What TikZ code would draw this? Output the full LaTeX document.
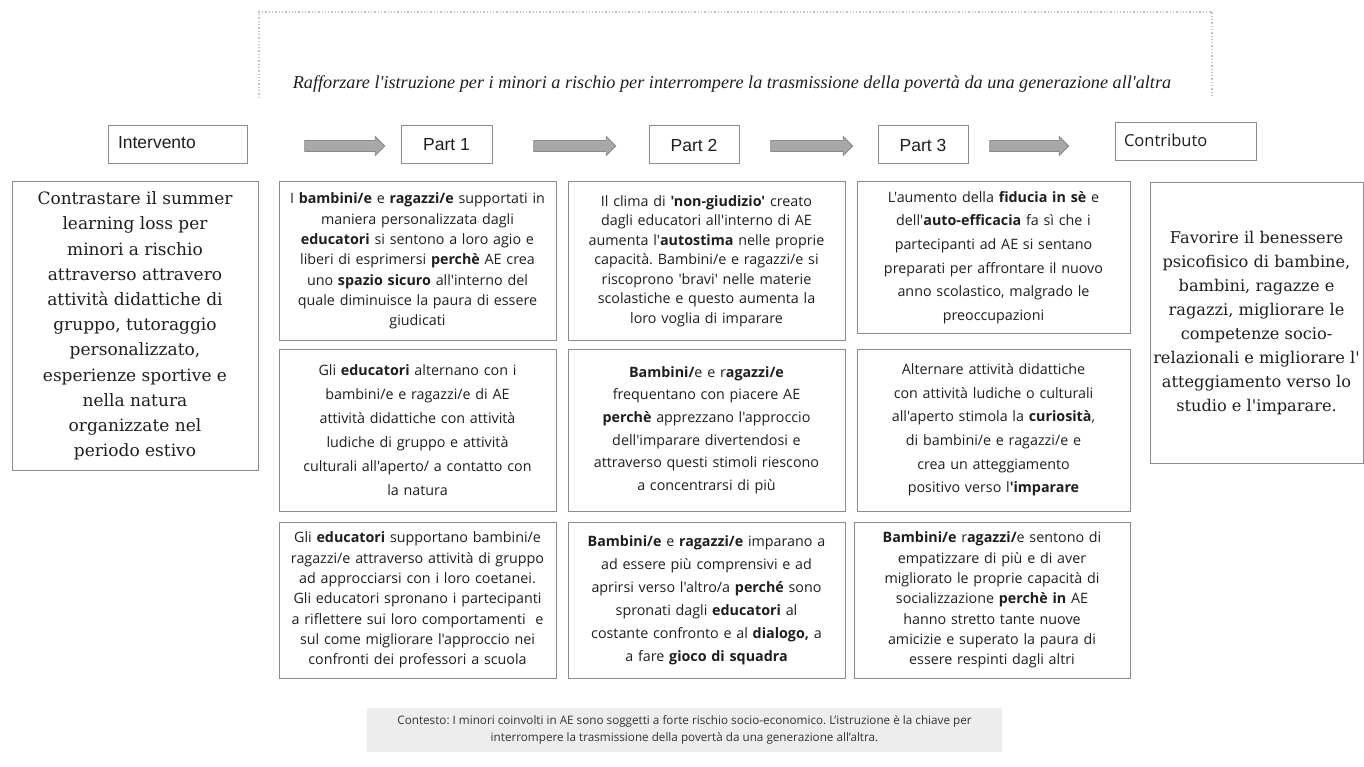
\documentclass[tikz,border=0pt]{standalone}
\usepackage{fontspec}
\setmainfont{Open Sans}[Ligatures=TeXOff]
\newfontfamily\slabfont{DejaVu Serif}[Ligatures=TeXOff]
\newfontfamily\titlefont{Liberation Serif}[Ligatures=TeXOff]
\newfontfamily\headfont{Liberation Sans}
\usetikzlibrary{shapes.arrows}
\frenchspacing

\definecolor{boxline}{HTML}{8C8C8C}
\definecolor{arrowfill}{HTML}{A8A8A8}
\definecolor{arrowline}{HTML}{8A8A8A}
\definecolor{ctxfill}{HTML}{EDEDED}
\definecolor{dotline}{HTML}{C4C4C4}
\definecolor{ink}{HTML}{1E1E1E}

\begin{document}
\begin{tikzpicture}[x=1pt, y=-1pt,
    every node/.style={inner sep=0pt, text=ink},
    cell/.style={draw=boxline, line width=1pt, align=center, text width=270pt,
      minimum height=#1, font=\fontsize{14.3}{20.3}\selectfont},
    cellgap/.style={font=\fontsize{14.3}{#1}\selectfont},
    slabbox/.style={draw=boxline, line width=1pt, align=center,
      font=\slabfont\fontsize{17}{#1}\selectfont},
    headbox/.style={draw=boxline, line width=1pt, minimum height=38pt, minimum width=#1},
    flowarrow/.style={single arrow, draw=arrowline, fill=arrowfill, line width=0.8pt,
      inner sep=5pt, single arrow head extend=4pt, minimum height=#1}]

  \useasboundingbox (0,0) rectangle (1364,767);

  % top goal, dotted frame
  \draw[dotline, dotted, line width=1.3pt] (259,98) -- (259,12) -- (1212,12) -- (1212,98);
  \node (goal) at (732,84) {\titlefont\itshape\fontsize{18.2}{20}\selectfont Rafforzare l'istruzione per i minori a rischio per interrompere la trasmissione della povertà da una generazione all'altra};

  % header row
  \node[headbox=139pt, text width=119pt, font=\headfont\fontsize{17.5}{20}\selectfont] (interv) at (177.5,145) {Intervento\vphantom{p}\par\vspace{2pt}};
  \node[headbox=91pt, font=\headfont\fontsize{17.5}{20}\selectfont] (part1) at (446.5,145) {Part 1};
  \node[headbox=90pt, font=\headfont\fontsize{17.5}{20}\selectfont] (part2) at (694,145) {Part 2};
  \node[headbox=90pt, font=\headfont\fontsize{17.5}{20}\selectfont] (part3) at (923,145) {Part 3};
  \node[headbox=141pt, text width=123pt, font=\fontsize{16.5}{20}\selectfont] (contrib) at (1185.5,141.5) {Contributo\par\vspace{2pt}};

  \node[flowarrow=80pt] (arr1) at (342,146) {};
  \node[flowarrow=82pt] (arr2) at (572,146) {};
  \node[flowarrow=82pt] (arr3) at (809,146) {};
  \node[flowarrow=79pt] (arr4) at (1026.5,146) {};

  % intervention and contribution
  \node[slabbox=25.2, minimum width=246pt, minimum height=288pt] (intervtxt) at (135,326) {Contrastare il summer\\learning loss per\\minori a rischio\\attraverso attravero\\attività didattiche di\\gruppo, tutoraggio\\personalizzato,\\esperienze sportive e\\nella natura\\organizzate nel\\periodo estivo};
  \node[slabbox=24, minimum width=213pt, minimum height=280pt, font=\slabfont\fontsize{16.2}{24}\selectfont] (contribtxt) at (1256.5,323) {Favorire il benessere\\psicofisico di bambine,\\bambini, ragazze e\\ragazzi, migliorare le\\competenze socio-\\relazionali e migliorare l'\\atteggiamento verso lo\\studio e l'imparare.};

  % Part 1
  \node[cell=158pt, minimum width=277pt] (p1a) at (417.5,261) {I \textbf{bambini/e} e \textbf{ragazzi/e} supportati in\\maniera personalizzata dagli\\\textbf{educatori} si sentono a loro agio e\\liberi di esprimersi \textbf{perchè} AE crea\\uno \textbf{spazio sicuro} all'interno del\\quale diminuisce la paura di essere\\giudicati};
  \node[cell=162pt, cellgap=24, minimum width=277pt] (p1b) at (417.5,430) {Gli \textbf{educatori} alternano con i\\bambini/e e ragazzi/e di AE\\attività didattiche con attività\\ludiche di gruppo e attività\\culturali all'aperto/ a contatto con\\la natura};
  \node[cell=156pt, minimum width=277pt] (p1c) at (417.5,600) {Gli \textbf{educatori} supportano bambini/e\\ragazzi/e attraverso attività di gruppo\\ad approcciarsi con i loro coetanei.\\Gli educatori spronano i partecipanti\\a riflettere sui loro comportamenti\ \ e\\sul come migliorare l'approccio nei\\confronti dei professori a scuola};

  % Part 2
  \node[cell=158pt, cellgap=19.5, minimum width=277pt] (p2a) at (706.5,261) {Il clima di \textbf{'non-giudizio'} creato\\dagli educatori all'interno di AE\\aumenta l'\textbf{autostima} nelle proprie\\capacità. Bambini/e e ragazzi/e si\\riscoprono 'bravi' nelle materie\\scolastiche e questo aumenta la\\loro voglia di imparare};
  \node[cell=162pt, cellgap=22.6, minimum width=277pt] (p2b) at (706.5,430) {\textbf{Bambini/}e e r\textbf{agazzi/e}\\frequentano con piacere AE\\\textbf{perchè} apprezzano l'approccio\\dell'imparare divertendosi e\\attraverso questi stimoli riescono\\a concentrarsi di più};
  \node[cell=156pt, cellgap=23, minimum width=277pt] (p2c) at (706.5,600) {\textbf{Bambini/e} e \textbf{ragazzi/e} imparano a\\ad essere più comprensivi e ad\\aprirsi verso l'altro/a \textbf{perché} sono\\spronati dagli \textbf{educatori} al\\costante confronto e al \textbf{dialogo,} a\\a fare \textbf{gioco di squadra}};

  % Part 3
  \node[cell=151pt, cellgap=23.6, minimum width=273pt] (p3a) at (993.5,257.5) {L'aumento della \textbf{fiducia in sè} e\\dell'\textbf{auto-efficacia} fa sì che i\\partecipanti ad AE si sentano\\preparati per affrontare il nuovo\\anno scolastico, malgrado le\\preoccupazioni};
  \node[cell=162pt, cellgap=23.6, minimum width=273pt] (p3b) at (993.5,430) {Alternare attività didattiche\\con attività ludiche o culturali\\all'aperto stimola la \textbf{curiosità},\\di bambini/e e ragazzi/e e\\crea un atteggiamento\\positivo verso l\textbf{'imparare}};
  \node[cell=156pt, minimum width=276pt] (p3c) at (992,600) {\textbf{Bambini/e} r\textbf{agazzi/}e sentono di\\empatizzare di più e di aver\\migliorato le proprie capacità di\\socializzazione \textbf{perchè in} AE\\hanno stretto tante nuove\\amicizie e superato la paura di\\essere respinti dagli altri};

  % context
  \node[fill=ctxfill, minimum width=635pt, minimum height=44pt, align=center,
    font=\fontsize{11.7}{17}\selectfont, text=black!80] (context) at (684.5,730) {Contesto: I minori coinvolti in AE sono soggetti a forte rischio socio-economico. L’istruzione è la chiave per\\interrompere la trasmissione della povertà da una generazione all’altra.};
\end{tikzpicture}
\end{document}
